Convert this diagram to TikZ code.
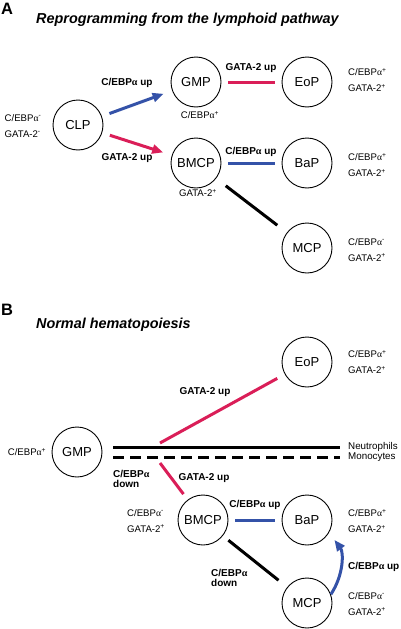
\documentclass[tikz,border=0pt]{standalone}
\usepackage{fontspec}
\setmainfont{Liberation Sans}
\newfontfamily\greekfont{Liberation Serif}
\usetikzlibrary{arrows.meta}
\definecolor{gatared}{RGB}{218,30,88}
\definecolor{cebpblue}{RGB}{52,82,168}
\newcommand{\cebpa}{C/EBP{\greekfont α}}
\begin{document}
\begin{tikzpicture}[x=1pt,y=-1pt,
    cell/.style={draw,circle,minimum size=50pt,inner sep=0pt,line width=0.9pt,font=\fontsize{13}{15}\selectfont},
    state/.style={font=\fontsize{9.6}{16}\selectfont,align=left,inner sep=0pt},
    tag/.style={font=\fontsize{10}{10.5}\selectfont\bfseries,align=left,inner sep=0pt},
    head/.style={font=\fontsize{14.4}{16}\selectfont\bfseries\itshape,inner sep=0pt},
    panel/.style={font=\fontsize{16.5}{16}\selectfont\bfseries,inner sep=0pt},
    link/.style={line width=3pt},
    tip/.style={-{Triangle[length=11pt,width=9pt]}}]
    \useasboundingbox (0,0) rectangle (401,629);
    % panel A
    \node[panel] (panelA) at (7,9) {A};
    \node[head,anchor=west] (titleA) at (36,20) {Reprogramming from the lymphoid pathway};
    \node[cell] (clpA) at (78,125) {CLP};
    \node[cell] (gmpA) at (196,82) {GMP};
    \node[cell] (eopA) at (307,82) {EoP};
    \node[cell] (bmcpA) at (196,163) {BMCP};
    \node[cell] (bapA) at (307,163) {BaP};
    \node[cell] (mcpA) at (307,248) {MCP};
    \draw [link,tip,color=cebpblue,shorten <=8pt,shorten >=9pt] (clpA)-- (gmpA);
    \draw [link,tip,color=gatared,shorten <=8pt,shorten >=9pt] (clpA)-- (bmcpA);
    \draw [link,color=gatared,shorten <=7pt,shorten >=7pt] (gmpA)-- (eopA);
    \draw [link,color=cebpblue,shorten <=7pt,shorten >=7pt] (bmcpA)-- (bapA);
    \draw [link,shorten <=12pt,shorten >=12pt] (bmcpA)-- (mcpA);
    \node[tag] (upA1) at (127,83) {\cebpa{} up};
    \node[tag] (upA2) at (127,158) {GATA-2 up};
    \node[tag] (upA3) at (251,68) {GATA-2 up};
    \node[tag] (upA4) at (251,152) {\cebpa{} up};
    \node[state] (clpmarkA) at (23,126) {\cebpa\textsuperscript{-}\\GATA-2\textsuperscript{-}};
    \node[state] (gmpmarkA) at (200,115) {\cebpa\textsuperscript{+}};
    \node[state] (bmcpmarkA) at (198,193) {GATA-2\textsuperscript{+}};
    \node[state,anchor=west] (eopmarkA) at (348,80) {\cebpa\textsuperscript{+}\\GATA-2\textsuperscript{+}};
    \node[state,anchor=west] (bapmarkA) at (348,165) {\cebpa\textsuperscript{+}\\GATA-2\textsuperscript{+}};
    \node[state,anchor=west] (mcpmarkA) at (348,250) {\cebpa\textsuperscript{-}\\GATA-2\textsuperscript{+}};
    % panel B
    \node[panel] (panelB) at (7,310) {B};
    \node[head,anchor=west] (titleB) at (36,325) {Normal hematopoiesis};
    \node[cell] (gmpB) at (77,452) {GMP};
    \node[cell] (eopB) at (307,362) {EoP};
    \node[cell] (bmcpB) at (203,520) {BMCP};
    \node[cell] (bapB) at (307,520) {BaP};
    \node[cell] (mcpB) at (307,603) {MCP};
    \node[state,font=\fontsize{9.8}{10}\selectfont,anchor=west] (neutro) at (348,447) {Neutrophils};
    \node[state,font=\fontsize{9.8}{10}\selectfont,anchor=west] (mono) at (348,457) {Monocytes};
    \coordinate (neutstart) at (113,447);
    \coordinate (monostart) at (113,457);
    \coordinate (branchE) at (160,443);
    \coordinate (branchB) at (160,463);
    \draw [link] (neutstart)-- ([xshift=-8pt]neutro.west);
    \draw [link,dash pattern=on 11pt off 6pt] (monostart)-- ([xshift=-8pt]mono.west);
    \draw [link,color=gatared,shorten >=8.5pt] (branchE)-- (eopB);
    \draw [link,color=gatared,shorten >=7pt] (branchB)-- (bmcpB);
    \draw [link,color=cebpblue,shorten <=7pt,shorten >=7pt] (bmcpB)-- (bapB);
    \draw [link,shorten <=7pt,shorten >=11pt] (bmcpB)-- (mcpB);
    \draw [link,tip,color=cebpblue,shorten >=9pt] (mcpB.20) to[bend right=35] (bapB.-30);
    \node[tag] (upB1) at (205,392) {GATA-2 up};
    \node[tag] (upB2) at (204,478) {GATA-2 up};
    \node[tag] (upB3) at (255,505) {\cebpa{} up};
    \node[tag,anchor=west] (upB4) at (348,567) {\cebpa{} up};
    \node[tag,anchor=west] (downB1) at (113,479) {\cebpa\\down};
    \node[tag,anchor=west] (downB2) at (211,578) {\cebpa\\down};
    \node[state] (gmpmarkB) at (27,452) {\cebpa\textsuperscript{+}};
    \node[state,anchor=west] (eopmarkB) at (348,362) {\cebpa\textsuperscript{+}\\GATA-2\textsuperscript{+}};
    \node[state,anchor=west] (bmcpmarkB) at (127,521) {\cebpa\textsuperscript{-}\\GATA-2\textsuperscript{+}};
    \node[state,anchor=west] (bapmarkB) at (348,521) {\cebpa\textsuperscript{+}\\GATA-2\textsuperscript{+}};
    \node[state,anchor=west] (mcpmarkB) at (348,604) {\cebpa\textsuperscript{-}\\GATA-2\textsuperscript{+}};
\end{tikzpicture}
\end{document}
